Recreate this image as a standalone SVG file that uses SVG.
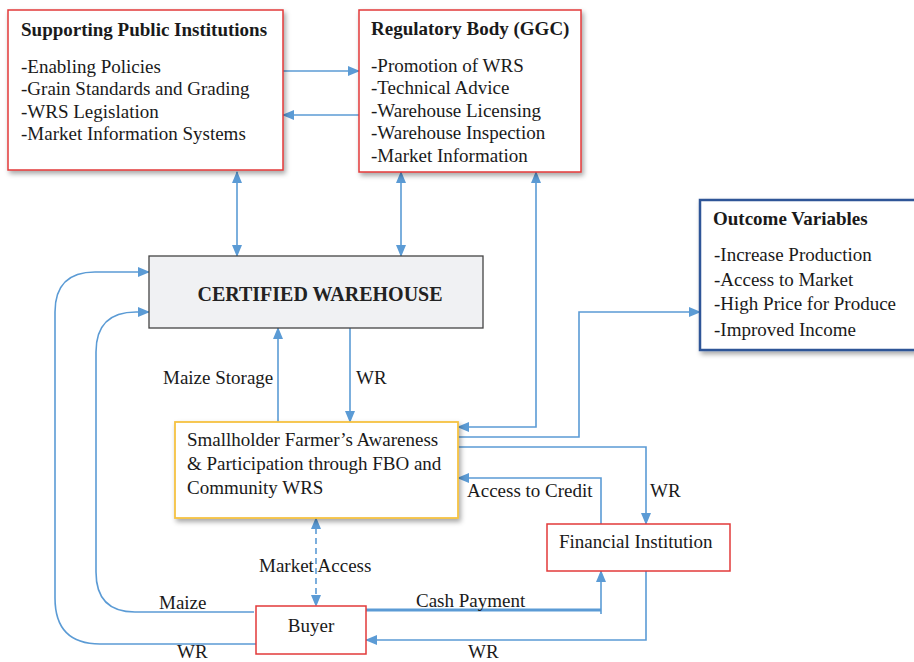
<svg xmlns="http://www.w3.org/2000/svg" width="914" height="662" viewBox="0 0 914 662">
<defs>
<filter id="sh" x="-10%" y="-10%" width="130%" height="130%">
<feDropShadow dx="2" dy="3" stdDeviation="2.5" flood-color="#000" flood-opacity="0.35"/>
</filter>
<marker id="ah" markerUnits="userSpaceOnUse" markerWidth="12" markerHeight="10" refX="11" refY="5" orient="auto-start-reverse">
<path d="M0,0 L12,5 L0,10 Z" fill="#5b9bd5"/>
</marker>
<style>
.conn{fill:none;stroke:#5b9bd5;stroke-width:1.6}
.red{fill:#fff;stroke:#e23a3a;stroke-width:1.5}
.t{font-family:"Liberation Serif","Times New Roman",serif;font-size:19px;fill:#1a1a1a}
.b{font-family:"Liberation Serif","Times New Roman",serif;font-size:19px;font-weight:bold;fill:#1a1a1a}
.s{font-family:"Liberation Serif","Times New Roman",serif;font-size:19px;fill:#1a1a1a}
</style>
</defs>
<rect width="914" height="662" fill="#fff"/>

<g id="connectors">
<path class="conn" d="M283,71 L359,71" marker-end="url(#ah)"/>
<path class="conn" d="M359,115 L283,115" marker-end="url(#ah)"/>
<path class="conn" d="M237,172 L237,256" marker-start="url(#ah)" marker-end="url(#ah)"/>
<path class="conn" d="M401,172 L401,256" marker-start="url(#ah)" marker-end="url(#ah)"/>
<path class="conn" d="M458,427 L536,427 L536,172" marker-start="url(#ah)" marker-end="url(#ah)"/>
<path class="conn" d="M278,422 L278,328" marker-end="url(#ah)"/>
<path class="conn" d="M350,328 L350,422" marker-end="url(#ah)"/>
<path class="conn" d="M458,437 L579,437 L579,312 L700,312" marker-end="url(#ah)"/>
<path class="conn" d="M458,447 L646,447 L646,524" marker-end="url(#ah)"/>
<path class="conn" d="M601,524 L601,478 L458,478" marker-end="url(#ah)"/>
<path class="conn" d="M316,518 L316,606" stroke-dasharray="6,4" marker-start="url(#ah)" marker-end="url(#ah)"/>
<path class="conn" d="M366,610 L601,610" style="stroke-width:3"/>
<path class="conn" d="M601,614 L601,571" marker-end="url(#ah)"/>
<path class="conn" d="M646,571 L646,640 L366,640" marker-end="url(#ah)"/>
<path class="conn" d="M256,644 L100,644 Q55,644 55,598 L55,312 Q55,272 95,272 L149,272" marker-end="url(#ah)"/>
<path class="conn" d="M254,612 L135,612 Q96,612 96,572 L96,352 Q96,312 136,312 L149,312" marker-end="url(#ah)"/>
<text class="s" x="163" y="384">Maize Storage</text>
<text class="s" x="356" y="384">WR</text>
<text class="s" x="467" y="497">Access to Credit</text>
<text class="s" x="650" y="497">WR</text>
<text class="s" x="259" y="572">Market Access</text>
<text class="s" x="159" y="609">Maize</text>
<text class="s" x="416" y="607">Cash Payment</text>
<text class="s" x="177" y="658">WR</text>
<text class="s" x="468" y="658">WR</text>
</g>

<g id="supporting">
<rect class="red" x="8" y="10" width="275" height="160" filter="url(#sh)"/>
<text class="b" x="21" y="36">Supporting Public Institutions</text>
<text class="t" x="21" y="73">-Enabling Policies</text>
<text class="t" x="21" y="95">-Grain Standards and Grading</text>
<text class="t" x="21" y="118">-WRS Legislation</text>
<text class="t" x="21" y="140">-Market Information Systems</text>
</g>

<g id="regulatory">
<rect class="red" x="359" y="10" width="222" height="162" filter="url(#sh)"/>
<text class="b" x="371" y="35">Regulatory Body (GGC)</text>
<text class="t" x="371" y="72">-Promotion of WRS</text>
<text class="t" x="371" y="94">-Technical Advice</text>
<text class="t" x="371" y="117">-Warehouse Licensing</text>
<text class="t" x="371" y="139">-Warehouse Inspection</text>
<text class="t" x="371" y="162">-Market Information</text>
</g>

<g id="warehouse">
<rect x="149" y="256" width="334" height="72" fill="#f0f1f3" stroke="#444" stroke-width="1.3"/>
<text x="320" y="301" text-anchor="middle" style="font-family:'Liberation Serif','Times New Roman',serif;font-size:20px;font-weight:bold;fill:#222">CERTIFIED WAREHOUSE</text>
</g>

<g id="outcome">
<rect x="700" y="200" width="220" height="150" fill="#fff" stroke="#2e5597" stroke-width="2.5" filter="url(#sh)"/>
<text class="b" x="713" y="225">Outcome Variables</text>
<text class="s" x="714" y="261">-Increase Production</text>
<text class="s" x="714" y="286">-Access to Market</text>
<text class="s" x="714" y="310">-High Price for Produce</text>
<text class="s" x="714" y="336">-Improved Income</text>
</g>

<g id="farmer">
<rect x="175" y="422" width="283" height="96" fill="#fff" stroke="#f5c242" stroke-width="1.8" filter="url(#sh)"/>
<text class="t" x="187" y="446">Smallholder Farmer’s Awareness</text>
<text class="t" x="187" y="470">&amp; Participation through FBO and</text>
<text class="t" x="187" y="494">Community WRS</text>
</g>

<g id="financial">
<rect class="red" x="547" y="524" width="183" height="47"/>
<text class="t" x="559" y="548">Financial Institution</text>
</g>

<g id="buyer">
<rect class="red" x="256" y="606" width="110" height="48"/>
<text class="t" x="311" y="632" text-anchor="middle">Buyer</text>
</g>
</svg>
